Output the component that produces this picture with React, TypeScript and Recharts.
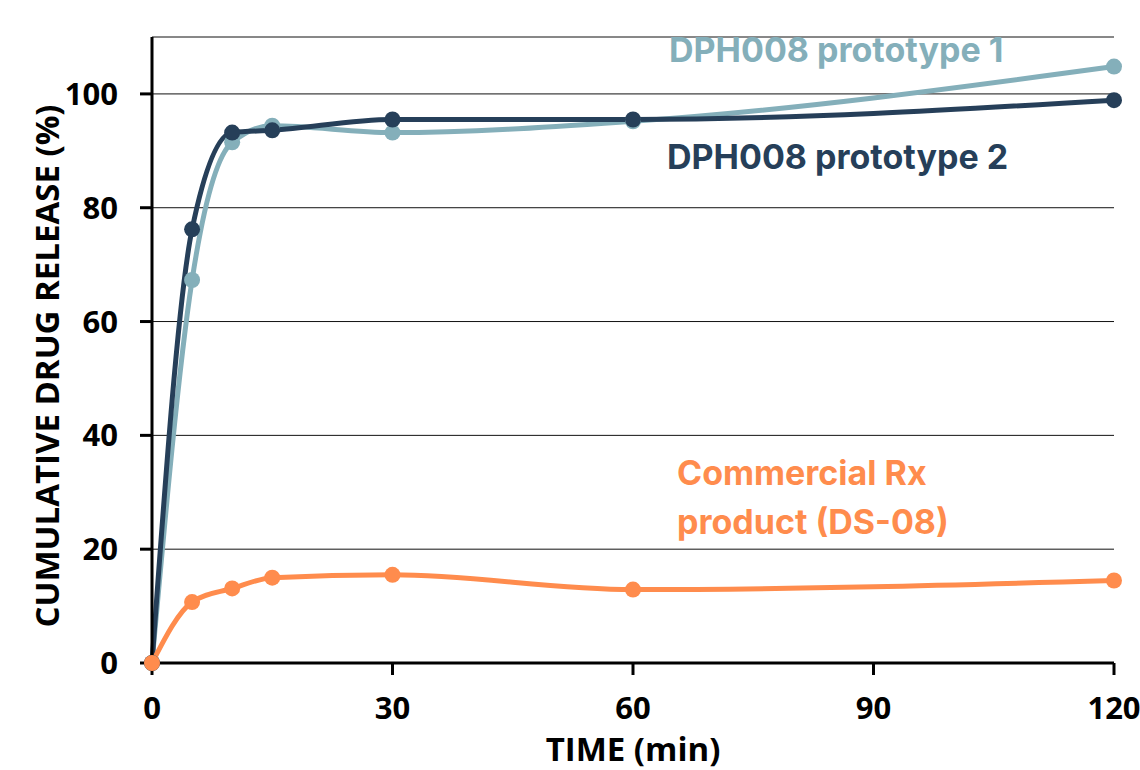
import React from 'react';
import {
  LineChart,
  Line,
  XAxis,
  YAxis,
  CartesianGrid,
} from 'recharts';

const times = [0, 5, 10, 15, 30, 60, 120];
const prototype1 = [0, 67.3, 91.5, 94.4, 93.2, 95.2, 104.8];
const prototype2 = [0, 76.2, 93.2, 93.6, 95.5, 95.5, 98.9];
const commercial = [0, 10.7, 13.1, 15.0, 15.5, 12.9, 14.5];

const xTicks = [0, 30, 60, 90, 120];
const yTicks = [0, 20, 40, 60, 80, 100];

const colors = {
  p1: '#84afba',
  p2: '#263f59',
  rx: '#ff8c4d',
};

const data = times.map((t, i) => ({
  time: t,
  p1: prototype1[i],
  p2: prototype2[i],
  rx: commercial[i],
}));

const axisFont = { fontFamily: 'Open Sans', fontWeight: 700, fontSize: 31, fill: '#000' };
const noteStyle: React.CSSProperties = {
  position: 'absolute',
  fontFamily: 'Inter',
  fontWeight: 700,
  fontSize: 34,
  lineHeight: '49px',
  whiteSpace: 'nowrap',
};

// rotated y title, placed a bit below the axis middle like the original
const YTitle = () => (
  <text
    x={46}
    y={366}
    transform="rotate(-90 46 366)"
    textAnchor="middle"
    dominantBaseline="central"
    style={{ ...axisFont, fontSize: 33 }}
  >
    CUMULATIVE DRUG RELEASE (%)
  </text>
);

export default function App() {
  return (
    <div style={{ position: 'absolute', left: 0, top: 0, width: 1140, height: 770, background: '#fff' }}>
      <LineChart width={1140} height={770} data={data} margin={{ top: 37, right: 26, left: 0, bottom: 0 }}>
        <CartesianGrid vertical={false} stroke="#111" strokeWidth={1} />
        <XAxis
          dataKey="time"
          type="number"
          domain={[0, 120]}
          ticks={xTicks}
          height={107}
          tick={axisFont}
          tickSize={12}
          tickMargin={22}
          axisLine={{ stroke: '#000', strokeWidth: 3 }}
          tickLine={{ stroke: '#000', strokeWidth: 3 }}
          label={{ value: 'TIME (min)', position: 'insideBottom', offset: 9, style: { ...axisFont, fontSize: 33 } }}
        />
        <YAxis
          type="number"
          domain={[0, 110]}
          ticks={yTicks}
          width={152}
          tick={axisFont}
          tickSize={12}
          tickMargin={22}
          axisLine={{ stroke: '#000', strokeWidth: 3 }}
          tickLine={{ stroke: '#000', strokeWidth: 3 }}
          label={{ content: YTitle }}
        />
        <Line
          dataKey="p1"
          type="monotone"
          stroke={colors.p1}
          strokeWidth={5}
          dot={{ r: 8, fill: colors.p1, stroke: colors.p1, strokeWidth: 0 }}
          isAnimationActive={false}
        />
        <Line
          dataKey="p2"
          type="monotone"
          stroke={colors.p2}
          strokeWidth={5}
          dot={{ r: 8, fill: colors.p2, stroke: colors.p2, strokeWidth: 0 }}
          isAnimationActive={false}
        />
        <Line
          dataKey="rx"
          type="monotone"
          stroke={colors.rx}
          strokeWidth={5}
          dot={{ r: 8, fill: colors.rx, stroke: colors.rx, strokeWidth: 0 }}
          isAnimationActive={false}
        />
      </LineChart>
      <div style={{ ...noteStyle, color: colors.p1, left: 669, top: 25 }}>DPH008 prototype 1</div>
      <div style={{ ...noteStyle, color: colors.p2, left: 667, top: 132 }}>DPH008 prototype 2</div>
      <div style={{ ...noteStyle, color: colors.rx, left: 677, top: 448 }}>
        Commercial Rx
        <br />
        product (DS-08)
      </div>
    </div>
  );
}
